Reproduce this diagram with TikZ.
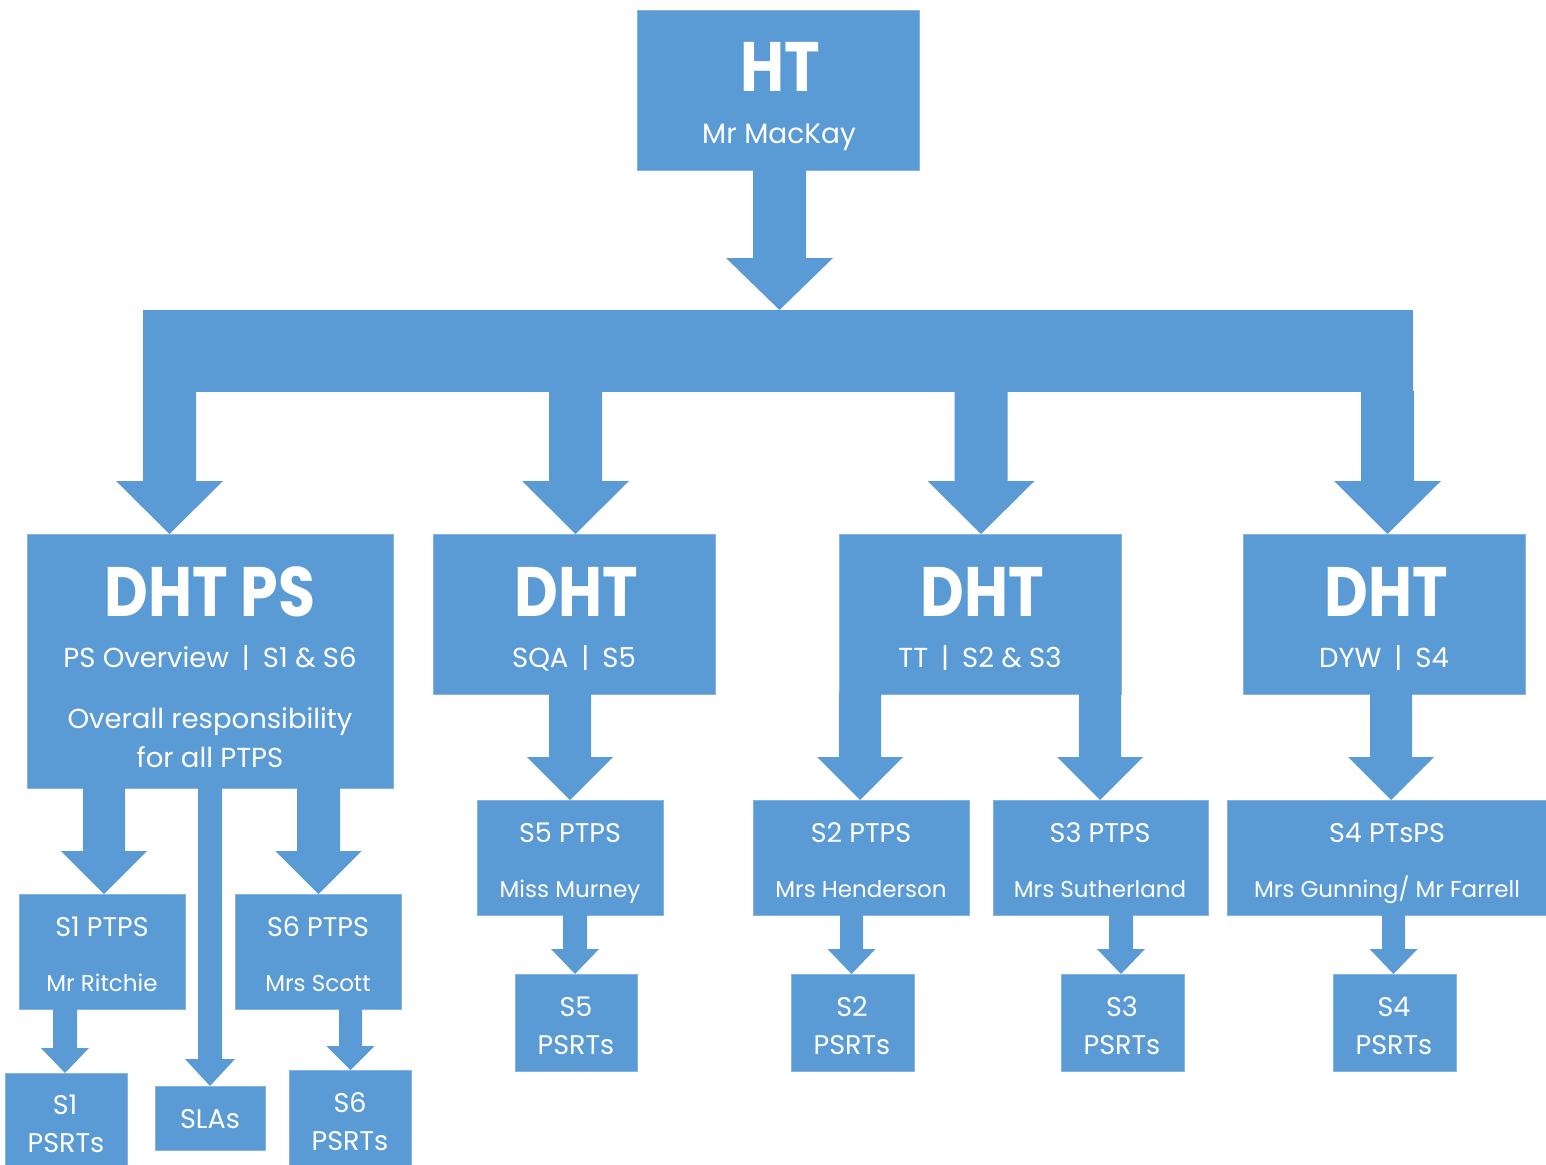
\documentclass[tikz,border=0pt]{standalone}
\usepackage{fontspec}
\usepackage{graphicx}
\setmainfont{Poppins}
\usetikzlibrary{calc}
\definecolor{bl}{HTML}{5B9BD5}
\definecolor{bledge}{HTML}{86B4E2}
\newcommand\fbig{\fontsize{70}{70}\selectfont\bfseries}
\newcommand\fsub{\fontsize{27.5}{27.5}\selectfont}
\newcommand\fhtn{\fontsize{28}{28}\selectfont}
\newcommand\fttl{\fontsize{27}{27}\selectfont}
\newcommand\fname{\fontsize{23}{23}\selectfont}
\newcommand\hd[1]{\scalebox{0.86}[1]{#1}}
\newcommand\sep{\hspace{13pt}|\hspace{13pt}}
\tikzset{
  box/.style={rectangle,fill=bl,draw=bledge,line width=0.8pt,inner sep=0pt,outer sep=0pt},
  txt/.style={text=white,anchor=base,inner sep=0pt,outer sep=0pt},
  arrowfill/.style={fill=bl}
}
\newcommand\bx[5]{%
  \pgfmathsetmacro\bw{#4-#2}\pgfmathsetmacro\bh{#5-#3}%
  \pgfmathsetmacro\bcx{(#2+#4)/2}\pgfmathsetmacro\bcy{(#3+#5)/2}%
  \node[box,minimum width=\bw pt,minimum height=\bh pt] (#1) at (\bcx,\bcy) {};}
% #1 src, #2 dst, #3 x centre, #4 shaft half width, #5 head half width, #6 head length
\newcommand\barrow[6]{%
  \fill[arrowfill] ($(#1.south -| #3,0)+(-#4,-1)$) -- ($(#1.south -| #3,0)+(#4,-1)$)
   -- ($(#2.north -| #3,0)+(#4,-#6)$) -- ($(#2.north -| #3,0)+(#5,-#6)$)
   -- (#2.north -| #3,0) -- ($(#2.north -| #3,0)+(-#5,-#6)$)
   -- ($(#2.north -| #3,0)+(-#4,-#6)$) -- cycle;}
\begin{document}
\begin{tikzpicture}[x=1pt,y=-1pt]
\useasboundingbox (0,0) rectangle (1546,1164);
% boxes
\bx{HT}{637}{10}{919}{170}
\fill[bl] (143,310) rectangle (1413,392);
\node[inner sep=0pt,outer sep=0pt,minimum width=1270pt,minimum height=82pt] (bar) at (778,351) {};
\bx{DPS}{27}{534}{393}{788}
\bx{DSQA}{433}{534}{715}{694}
\bx{DTT}{839}{534}{1121}{694}
\bx{DDYW}{1243}{534}{1525}{694}
\bx{S1P}{19}{894}{185}{1009}
\bx{S6P}{235}{894}{401}{1009}
\bx{S1R}{5}{1073}{127}{1172}
\bx{SLA}{155}{1086}{265}{1150}
\bx{S6R}{289}{1070}{411}{1172}
\bx{S5P}{477}{800}{663}{915}
\bx{S2P}{753}{800}{969}{915}
\bx{S3P}{993}{800}{1208}{915}
\bx{S4P}{1227}{800}{1548}{915}
\bx{S5R}{515}{974}{637}{1071}
\bx{S2R}{791}{974}{914}{1071}
\bx{S3R}{1061}{974}{1184}{1071}
\bx{S4R}{1333}{974}{1456}{1071}
% block arrows
\barrow{HT}{bar}{779.5}{26.5}{53.5}{52}
\barrow{bar}{DPS}{169.5}{26.5}{53.5}{53}
\barrow{bar}{DSQA}{575.5}{26.5}{53.5}{53}
\barrow{bar}{DTT}{981}{26.5}{53.5}{53}
\barrow{bar}{DDYW}{1387.5}{26.5}{53.5}{53}
\barrow{DPS}{S1P}{104}{21}{43}{43}
\barrow{DPS}{S6P}{318.5}{21.5}{43}{43}
\barrow{DPS}{SLA}{210}{12}{25}{27}
\barrow{S1P}{S1R}{65}{12}{24}{25}
\barrow{S6P}{S6R}{350.5}{11.5}{24}{24}
\barrow{DSQA}{S5P}{570}{21}{43}{43}
\barrow{DTT}{S2P}{860}{21}{43}{43}
\barrow{DTT}{S3P}{1100}{21}{43}{43}
\barrow{DDYW}{S4P}{1391}{21}{43}{43}
\barrow{S5P}{S5R}{575}{12}{24}{25}
\barrow{S2P}{S2R}{851.5}{11.5}{24}{25}
\barrow{S3P}{S3R}{1121}{12}{24}{25}
\barrow{S4P}{S4R}{1393.5}{11.5}{24}{25}
% texts
\node[txt,font=\fbig] (tHT) at (780,92) {\hd{HT}};
\node[txt,font=\fhtn] (tHTn) at (779,143) {Mr MacKay};
\node[txt,font=\fbig] (tDPS) at (210,616) {\hd{DHT PS}};
\node[txt,font=\fsub] (tDPSa) at (210,667) {PS Overview\sep S1 \& S6};
\node[txt,font=\fsub] (tDPSb) at (210,728) {Overall responsibility};
\node[txt,font=\fsub] (tDPSc) at (210,767) {for all PTPS};
\node[txt,font=\fbig] (tDSQA) at (576,616) {\hd{DHT}};
\node[txt,font=\fsub] (tDSQAa) at (574,667) {SQA\sep S5};
\node[txt,font=\fbig] (tDTT) at (982,616) {\hd{DHT}};
\node[txt,font=\fsub] (tDTTa) at (980,667) {TT\sep S2 \& S3};
\node[txt,font=\fbig] (tDDYW) at (1386,616) {\hd{DHT}};
\node[txt,font=\fsub] (tDDYWa) at (1384,667) {DYW\sep S4};
\node[txt,font=\fttl] (tS1P) at (102,936) {S1 PTPS};
\node[txt,font=\fname] (tS1Pn) at (102,991) {Mr Ritchie};
\node[txt,font=\fttl] (tS6P) at (318,936) {S6 PTPS};
\node[txt,font=\fname] (tS6Pn) at (318,991) {Mrs Scott};
\node[txt,font=\fttl] (tS1Ra) at (65,1114) {S1};
\node[txt,font=\fttl] (tS1Rb) at (66,1152) {PSRTs};
\node[txt,font=\fttl] (tSLA) at (210,1128) {SLAs};
\node[txt,font=\fttl] (tS6Ra) at (350,1112) {S6};
\node[txt,font=\fttl] (tS6Rb) at (350,1150) {PSRTs};
\node[txt,font=\fttl] (tS5P) at (570,842) {S5 PTPS};
\node[txt,font=\fname] (tS5Pn) at (570,897) {Miss Murney};
\node[txt,font=\fttl] (tS2P) at (861,842) {S2 PTPS};
\node[txt,font=\fname] (tS2Pn) at (861,897) {Mrs Henderson};
\node[txt,font=\fttl] (tS3P) at (1100,842) {S3 PTPS};
\node[txt,font=\fname] (tS3Pn) at (1100,897) {Mrs Sutherland};
\node[txt,font=\fttl] (tS4P) at (1387,842) {S4 PTsPS};
\node[txt,font=\fname] (tS4Pn) at (1387,897) {Mrs Gunning/ Mr Farrell};
\node[txt,font=\fttl] (tS5Ra) at (576,1016) {S5};
\node[txt,font=\fttl] (tS5Rb) at (576,1054) {PSRTs};
\node[txt,font=\fttl] (tS2Ra) at (852,1016) {S2};
\node[txt,font=\fttl] (tS2Rb) at (852,1054) {PSRTs};
\node[txt,font=\fttl] (tS3Ra) at (1122,1016) {S3};
\node[txt,font=\fttl] (tS3Rb) at (1122,1054) {PSRTs};
\node[txt,font=\fttl] (tS4Ra) at (1394,1016) {S4};
\node[txt,font=\fttl] (tS4Rb) at (1394,1054) {PSRTs};
\end{tikzpicture}
\end{document}
